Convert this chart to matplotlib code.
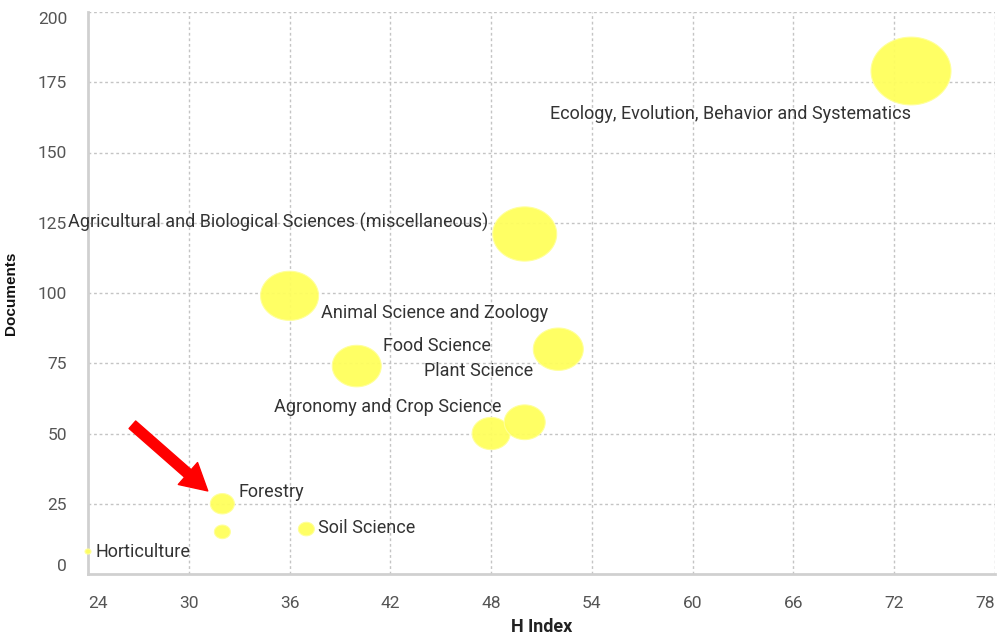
import matplotlib
matplotlib.use("Agg")
import matplotlib.pyplot as plt
from matplotlib.path import Path
import numpy as np

# ---- data ----
categories = [
    "Ecology, Evolution, Behavior and Systematics",
    "Agricultural and Biological Sciences (miscellaneous)",
    "Animal Science and Zoology",
    "Food Science",
    "Plant Science",
    "Agronomy and Crop Science",
    "",
    "Forestry",
    "",
    "Soil Science",
    "Horticulture",
]
h_index = [73, 50, 36, 40, 52, 48, 50, 32, 32, 37, 24]
documents = [179, 121, 99, 74, 80, 50, 54, 25, 15, 16, 8]
bubble_z = [80, 64, 58, 49, 50, 38, 41, 24, 16, 16, 6]

x_ticks = [24, 30, 36, 42, 48, 54, 60, 66, 72, 78]
y_ticks = [0, 25, 50, 75, 100, 125, 150, 175, 200]

# ---- layout / style (label offsets in px: dx, dy, ha) ----
label_layout = [
    (0, -43, "right"),
    (-36, 12, "right"),
    (31, -17, "left"),
    (26, 20, "left"),
    (-25, -22, "right"),
    (10, 27, "right"),
    (0, 0, "left"),
    (16, 12, "left"),
    (0, 0, "left"),
    (12, 1, "left"),
    (7, 0, "left"),
]
PT = 0.72  # px -> pt at 100 dpi

plt.rcParams["font.family"] = ["Roboto", "DejaVu Sans"]

W, H = 1003, 635
fig = plt.figure(figsize=(W / 100, H / 100), dpi=100)
ax = fig.add_axes([88 / W, 1 - 574 / H, (995 - 88) / W, (574 - 12) / H])

ax.set_xlim(24, 78)
ax.set_ylim(0, 200)

# grid
grid_kw = dict(color="#c4c4c4", linewidth=1.0, linestyle=(0, (2, 2)), zorder=3)
for xv in x_ticks[1:]:
    ax.axvline(xv, **grid_kw)
for yv in y_ticks[1:]:
    ax.axhline(yv, **grid_kw)

for s in ["top", "right"]:
    ax.spines[s].set_visible(False)
for s in ["left", "bottom"]:
    ax.spines[s].set_color("#d0d0d0")
    ax.spines[s].set_linewidth(2)
    ax.spines[s].set_zorder(4)

# ellipse marker (image is slightly stretched horizontally)
t = np.linspace(0, 2 * np.pi, 100)
ell = Path(np.column_stack([1.18 * np.cos(t), np.sin(t)]), closed=True)
sizes = [(z * PT) ** 2 for z in bubble_z]
ax.scatter(h_index, documents, s=sizes, marker=ell, facecolor="#ffff5c",
           edgecolor="#ffff9a", linewidth=0.8, alpha=0.95, zorder=5, clip_on=False)

# data labels
for name, x, y, (dx, dy, ha) in zip(categories, h_index, documents, label_layout):
    if not name:
        continue
    ax.annotate(name, (x, y), xytext=(dx * PT, dy * PT), textcoords="offset points",
                ha=ha, va="center", fontsize=13, color="#333333", zorder=6,
                annotation_clip=False)

# red arrow pointing at Forestry
fi = categories.index("Forestry")
ax.annotate("", xy=(h_index[fi], documents[fi]), xytext=(-90 * PT, 79 * PT),
            textcoords="offset points",
            arrowprops=dict(arrowstyle="simple,head_length=0.95,head_width=1.05,tail_width=0.36",
                            color="#ff0000", shrinkA=0, shrinkB=14, mutation_scale=20),
            zorder=7)

# ticks
ax.set_xticks(x_ticks)
ax.set_yticks(y_ticks)
ax.tick_params(axis="both", length=0, labelsize=12.5, labelcolor="#555555")
ax.tick_params(axis="x", pad=16)
ax.tick_params(axis="y", pad=15)
xl = ax.get_xticklabels()
xl[0].set_ha("left")
xl[-1].set_ha("right")
yl = ax.get_yticklabels()
yl[0].set_va("bottom")
yl[-1].set_va("top")

ax.set_xlabel("H Index", fontsize=13, fontweight="bold", color="#222222", labelpad=5)
ax.set_ylabel("Documents", fontsize=11, fontweight="bold", color="#111111",
              family=["Liberation Sans", "DejaVu Sans"], labelpad=14)

fig.savefig("out.png", dpi=100, facecolor="white")
